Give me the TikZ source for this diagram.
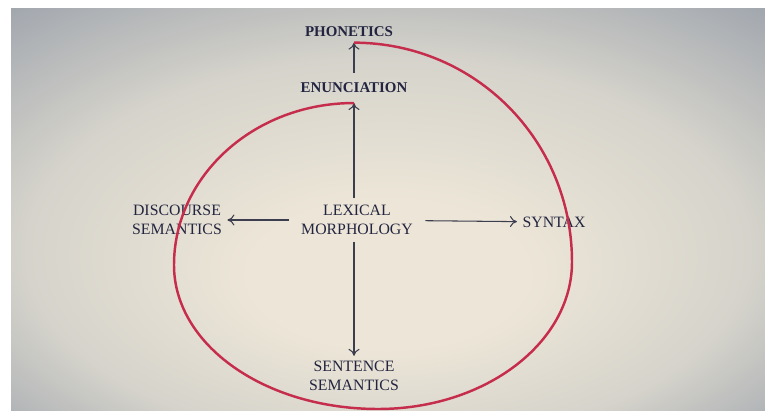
\documentclass[tikz,border=0pt]{standalone}
\usepackage{fontspec}
\setmainfont{Liberation Serif}
\usetikzlibrary{arrows.meta,positioning}
\definecolor{paper}{HTML}{FFFFFF}
\definecolor{ink}{HTML}{232540}
\definecolor{inkgray}{HTML}{3C3D4E}
\definecolor{spiralred}{HTML}{C62D4C}
\definecolor{glow}{HTML}{EDE6D8}
\definecolor{screenmid}{HTML}{D5D3CB}
\definecolor{screenedge}{HTML}{8F97A4}
\pgfdeclareradialshading{screenglow}{\pgfpoint{0bp}{-10bp}}{color(0bp)=(glow); color(9bp)=(glow); color(24bp)=(screenmid); color(42bp)=(screenedge); color(50bp)=(screenedge)}
\tikzset{
  term/.style={font=\fontsize{9}{10.5}\selectfont,text=ink,
               align=center,inner sep=3pt},
  keyterm/.style={term,font=\fontsize{8.5}{10.5}\selectfont\bfseries},
  branch/.style={-{To[length=1.4mm,width=2.2mm]},line width=0.6pt,color=inkgray},
  spiral/.style={color=spiralred,line width=1.4pt}
}

\begin{document}
\begin{tikzpicture}[x=0.02cm,y=-0.02cm]
  \useasboundingbox (0,0) rectangle (765,410);
  % photographed screen
  \fill[paper] (0,0) rectangle (765,410);
  \shade[shading=screenglow] (11,8) rectangle (765,410);
  % terms
  \node[keyterm] (phon) at (349,32) {PHONETICS};
  \node[keyterm,inner ysep=5.5pt] (enun) at (354,88) {ENUNCIATION};
  \node[term,inner xsep=7pt,inner ysep=4pt] (lex) at (357,220) {LEXICAL\\MORPHOLOGY};
  \node[term] (disc) at (177,220) {DISCOURSE\\SEMANTICS};
  \node[term] (syn) at (554,222) {SYNTAX};
  \node[term] (sent) at (354,376) {SENTENCE\\SEMANTICS};
  % branches
  \draw[branch] (lex.north -| enun.south) -- (enun.south);
  \draw[branch] (enun.north) -- (phon.south -| enun.north);
  \draw[branch] (lex) -- (disc);
  \draw[branch] (lex) -- (syn);
  \draw[branch] (lex.south -| sent.north) -- (sent.north);
  % spiral
  \draw[spiral] (enun.south) .. controls (254,103) and (174,176) .. (174,265)
    .. controls (174,345) and (265,409) .. (378,409)
    .. controls (485,409) and (572,343) .. (572,262)
    .. controls (572,141) and (476,43) .. (phon.south -| enun.north);
\end{tikzpicture}
\end{document}
